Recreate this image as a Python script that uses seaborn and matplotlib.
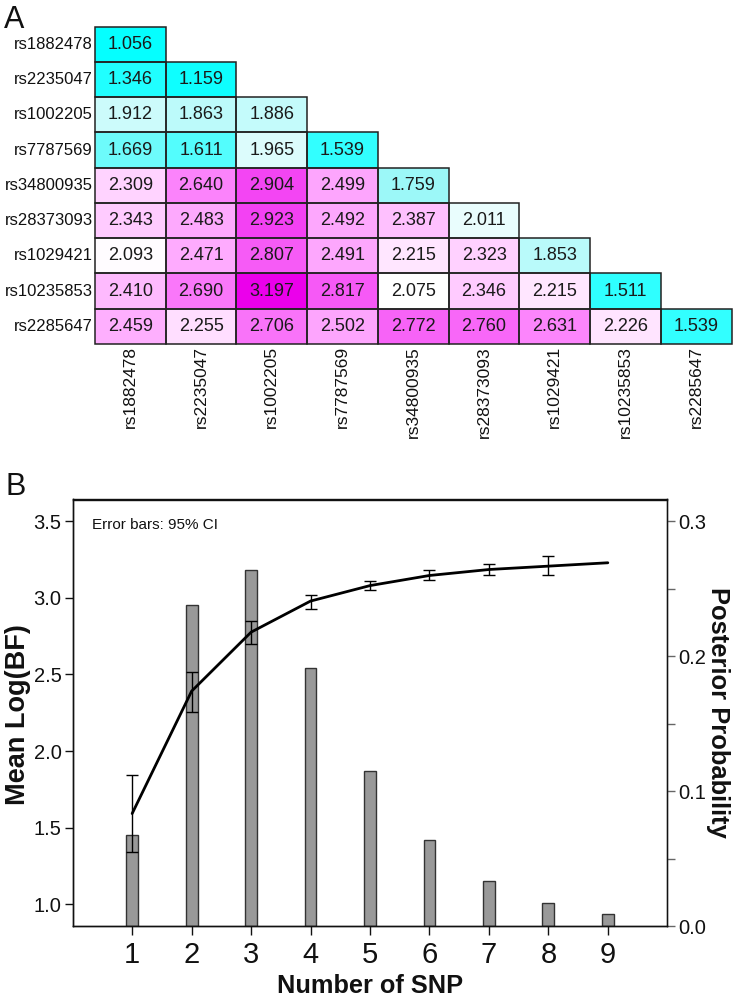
import numpy as np
import pandas as pd
import matplotlib
matplotlib.use("Agg")
import matplotlib.pyplot as plt
import seaborn as sns
from matplotlib.colors import LinearSegmentedColormap
from matplotlib.patches import Rectangle

# ---------------- data ----------------
snps = ["rs1882478", "rs2235047", "rs1002205", "rs7787569", "rs34800935",
        "rs28373093", "rs1029421", "rs10235853", "rs2285647"]

ld_row1 = [1.056]
ld_row2 = [1.346, 1.159]
ld_row3 = [1.912, 1.863, 1.886]
ld_row4 = [1.669, 1.611, 1.965, 1.539]
ld_row5 = [2.309, 2.640, 2.904, 2.499, 1.759]
ld_row6 = [2.343, 2.483, 2.923, 2.492, 2.387, 2.011]
ld_row7 = [2.093, 2.471, 2.807, 2.491, 2.215, 2.323, 1.853]
ld_row8 = [2.410, 2.690, 3.197, 2.817, 2.075, 2.346, 2.215, 1.511]
ld_row9 = [2.459, 2.255, 2.706, 2.502, 2.772, 2.760, 2.631, 2.226, 1.539]

n_snp = [1, 2, 3, 4, 5, 6, 7, 8, 9]
posterior_prob = [0.0676, 0.2383, 0.2638, 0.1913, 0.1153, 0.0638, 0.0336, 0.0173, 0.0087]
mean_logbf = [1.592, 2.391, 2.776, 2.979, 3.080, 3.146, 3.185, 3.207, 3.229]
ci_n = [1, 2, 3, 4, 5, 6, 7, 8]
ci_low = [1.344, 2.254, 2.700, 2.929, 3.050, 3.114, 3.146, 3.148]
ci_high = [1.841, 2.518, 2.846, 3.020, 3.110, 3.179, 3.222, 3.270]

left_ticks = [1.0, 1.5, 2.0, 2.5, 3.0, 3.5]
right_ticks = [0.0, 0.1, 0.2, 0.3]
right_minor = [0.05, 0.15, 0.25]

# ---------------- style ----------------
sns.set_theme(style="white")
plt.rcParams["font.family"] = ["Liberation Sans", "DejaVu Sans"]

W, H = 738, 1002
fig = plt.figure(figsize=(W / 100, H / 100), dpi=100)

def fx(px):
    return px / W

def fy(py):
    return 1 - py / H

# ---------------- panel A: heatmap ----------------
rows = [ld_row1, ld_row2, ld_row3, ld_row4, ld_row5, ld_row6, ld_row7, ld_row8, ld_row9]
mat = np.full((len(snps), len(snps)), np.nan)
for i, r in enumerate(rows):
    mat[i, :len(r)] = r
df = pd.DataFrame(mat, index=snps, columns=snps)
mask = np.isnan(mat)

vmin, vmax = 1.0, 3.2
def p(v):
    return (v - vmin) / (vmax - vmin)

cmap = LinearSegmentedColormap.from_list(
    "cyan_white_magenta",
    [(0.0, (0.0, 1.0, 1.0)),
     (p(1.55), (0.2, 1.0, 1.0)),
     (p(1.75), (0.6, 0.97, 0.97)),
     (p(2.08), (1.0, 1.0, 1.0)),
     (p(2.30), (1.0, 0.84, 1.0)),
     (p(2.60), (0.99, 0.55, 0.99)),
     (1.0, (0.92, 0.0, 0.92))])

axA = fig.add_axes([fx(95), fy(344), fx(731.7 - 95), (344 - 26.7) / H])
sns.heatmap(df, mask=mask, cmap=cmap, vmin=vmin, vmax=vmax, annot=True, fmt=".3f",
            annot_kws={"size": 13, "color": "#1a1a1a"}, linewidths=0,
            cbar=False, ax=axA)
# cell borders only around the filled (lower-triangle) cells
for i in range(mat.shape[0]):
    for j in range(mat.shape[1]):
        if not mask[i, j]:
            axA.add_patch(Rectangle((j, i), 1, 1, fill=False, edgecolor="#222222",
                                    linewidth=1.1, clip_on=False, zorder=3))
axA.tick_params(axis="both", length=0, pad=1.5)
axA.set_xticklabels(snps, rotation=90, fontsize=12.5, color="#111111")
axA.set_yticklabels(snps, rotation=0, fontsize=12, color="#111111")
axA.set_xlabel("")
axA.set_ylabel("")
for s in axA.spines.values():
    s.set_visible(False)

fig.text(fx(4), fy(5), "A", fontsize=22, ha="left", va="top", color="#111111")

# ---------------- panel B ----------------
axB = fig.add_axes([fx(72.7), fy(926), fx(667.3 - 72.7), (926 - 499.5) / H])
axB2 = axB.twinx()

dfb = pd.DataFrame({"n": n_snp, "pp": posterior_prob, "bf": mean_logbf})

sns.barplot(data=dfb, x="n", y="pp", native_scale=True, width=0.2, color="#999999",
            saturation=1, edgecolor="#333333", linewidth=1.0, ax=axB2)
sns.lineplot(data=dfb, x="n", y="bf", color="black", linewidth=2.0, ax=axB)

lo = np.array(mean_logbf[:len(ci_n)]) - np.array(ci_low)
hi = np.array(ci_high) - np.array(mean_logbf[:len(ci_n)])
axB.errorbar(ci_n, mean_logbf[:len(ci_n)], yerr=[lo, hi], fmt="none", ecolor="black",
             elinewidth=1.0, capsize=4.6, capthick=1.0)

axB.set_zorder(axB2.get_zorder() + 1)
axB.patch.set_visible(False)

axB.set_xlim(0, 10)
axB2.set_xlim(0, 10)
axB.set_ylim(0.858, 3.642)
axB2.set_ylim(0, 0.3163)

axB.set_xticks(n_snp)
axB.set_xticklabels([str(v) for v in n_snp], fontsize=21)
axB.set_yticks(left_ticks)
axB.set_yticklabels([f"{v:.1f}" for v in left_ticks], fontsize=14.5)
axB2.set_yticks(right_ticks)
axB2.set_yticklabels([f"{v:.1f}" for v in right_ticks], fontsize=14.5)
axB2.set_yticks(right_minor, minor=True)

axB.tick_params(axis="x", direction="out", length=6.5, width=1.0, pad=4, bottom=True, colors="#111111")
axB.tick_params(axis="y", direction="out", length=6, width=1.0, pad=2, left=True, colors="#111111")
axB2.tick_params(axis="y", which="both", direction="out", length=6, width=1.0, pad=2, right=True,
                 colors="#111111")
axB2.tick_params(axis="y", which="both", color="#666666")

for ax in (axB, axB2):
    ax.set_xlabel("")
    ax.set_ylabel("")
    for s in ax.spines.values():
        s.set_linewidth(1.0)
        s.set_color("#111111")
axB2.spines["right"].set_color("#666666")

axB.text(0.032, 0.940, "Error bars: 95% CI", transform=axB.transAxes, fontsize=11,
         ha="left", va="center", color="#111111")

fig.text(fx(18), fy(715), "Mean Log(BF)", rotation=90, fontsize=19.5, fontweight="bold",
         ha="center", va="center", color="#111111")
fig.text(fx(718), fy(712), "Posterior Probability", rotation=-90, fontsize=18.4,
         fontweight="bold", ha="center", va="center", color="#111111")
fig.text(fx(370), fy(986), "Number of SNP", fontsize=18.3, fontweight="bold",
         ha="center", va="center", color="#111111")
fig.text(fx(6), fy(472), "B", fontsize=22, ha="left", va="top", color="#111111")

fig.savefig("out.png", dpi=100)
